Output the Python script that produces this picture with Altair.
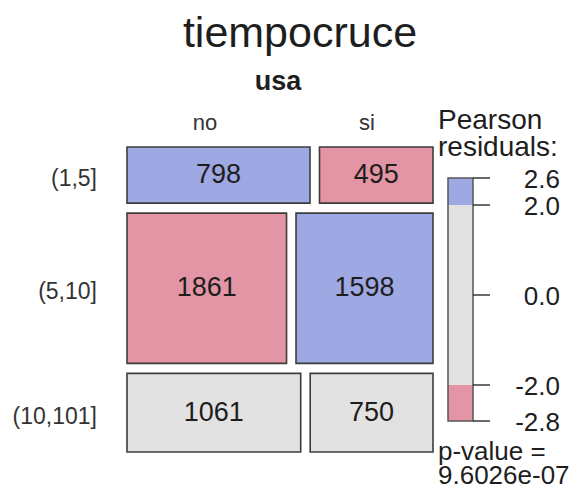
import altair as alt
import pandas as pd

# ---- data ----
rows = ["(1,5]", "(5,10]", "(10,101]"]
cols = ["no", "si"]
counts_no = [798, 1861, 1061]
counts_si = [495, 1598, 750]
legend_ticks = [2.6, 2.0, 0.0, -2.0, -2.8]
legend_tick_labels = ["2.6", "2.0", "0.0", "-2.0", "-2.8"]
legend_breaks = [-2.8, -2.0, 2.0, 2.6]
p_value_text = "9.6026e-07"

FONT = "Liberation Sans"
BLUE = "#9EA8E2"
PINK = "#E495A5"
GRAY = "#E2E2E2"
W, H = 306, 305
GX, GY = 0.032, 0.035

counts = [[a, b] for a, b in zip(counts_no, counts_si)]
total = sum(sum(r) for r in counts)
row_tot = [sum(r) for r in counts]
col_tot = [sum(counts[i][j] for i in range(len(rows))) for j in range(len(cols))]

cells = []
y = 0.0
for i, r in enumerate(rows):
    h = row_tot[i] / total
    x = 0.0
    for j, c in enumerate(cols):
        w = counts[i][j] / row_tot[i]
        exp = row_tot[i] * col_tot[j] / total
        res = (counts[i][j] - exp) / exp ** 0.5
        cells.append(dict(row=r, col=c, n=counts[i][j], x0=x, x1=x + w,
                          y0=y, y1=y + h, xc=x + w / 2, yc=y + h / 2, res=res))
        x += w + GX
    y += h + GY
cells = pd.DataFrame(cells)
rowlab = cells.groupby("row", sort=False)["yc"].first().reset_index()

xs = alt.Scale(domain=[0, 1 + GX], nice=False, zero=False)
ys = alt.Scale(domain=[0, 1 + 2 * GY], nice=False, zero=False, reverse=True)
cs = alt.Scale(type="threshold", domain=[-2, 2], range=[PINK, GRAY, BLUE])

tiles = alt.Chart(cells).mark_rect(stroke="#3c3c3c", strokeWidth=1.6).encode(
    x=alt.X("x0:Q", scale=xs, axis=None), x2="x1:Q",
    y=alt.Y("y0:Q", scale=ys, axis=None), y2="y1:Q",
    fill=alt.Fill("res:Q", scale=cs, legend=None),
)
nums = alt.Chart(cells).mark_text(font=FONT, fontSize=27, color="#1e1e1e", baseline="middle").encode(
    x=alt.X("xc:Q", scale=xs, axis=None),
    y=alt.Y("yc:Q", scale=ys, axis=None),
    text="n:Q",
)
rlabels = alt.Chart(rowlab).mark_text(font=FONT, fontSize=23, color="#333333", align="right",
                                      baseline="middle", dy=4).encode(
    x=alt.value(-30),
    y=alt.Y("yc:Q", scale=ys, axis=None),
    text="row:N",
)

one = pd.DataFrame({"k": [0]})
def label(txt, px, py, size, align="center", weight="normal", color="#1e1e1e"):
    return alt.Chart(one).mark_text(text=txt, font=FONT, fontSize=size, align=align,
                                    baseline="alphabetic", fontWeight=weight, color=color).encode(
        x=alt.value(px), y=alt.value(py))

annots = [
    label("tiempocruce", 173, -100, 43),
    label("usa", 151, -57, 27, weight="bold"),
    label(cols[0], 78, -17, 22, color="#333333"),
    label(cols[1], 240, -17, 22, color="#333333"),
    label("Pearson", 311, -18, 28, align="left"),
    label("residuals:", 311, 9, 28, align="left"),
    label("p-value =", 311, 313, 26, align="left"),
    label(p_value_text, 311, 337, 26, align="left"),
]

mosaic = alt.layer(tiles, nums, rlabels, *annots)

# ---- legend ----
seg = pd.DataFrame({
    "lo": legend_breaks[:-1],
    "hi": legend_breaks[1:],
})
seg["mid"] = (seg["lo"] + seg["hi"]) / 2
ticks = pd.DataFrame({"v": legend_ticks, "lab": legend_tick_labels})
ls = alt.Scale(domain=[legend_breaks[0], legend_breaks[-1]], range=[274, 31], nice=False, zero=False)

lbar = alt.Chart(seg).mark_rect().encode(
    x=alt.value(321), x2=alt.value(346),
    y=alt.Y("lo:Q", scale=ls, axis=None), y2="hi:Q",
    fill=alt.Fill("mid:Q", scale=cs, legend=None),
)
lframe = alt.Chart(pd.DataFrame({"lo": [legend_breaks[0]], "hi": [legend_breaks[-1]]})).mark_rect(
    fill=None, stroke="#555555", strokeWidth=1.5).encode(
    x=alt.value(321), x2=alt.value(346),
    y=alt.Y("lo:Q", scale=ls, axis=None), y2="hi:Q",
)
lticks = alt.Chart(ticks).mark_rule(color="#2a2a2a", strokeWidth=1.4).encode(
    x=alt.value(346), x2=alt.value(363),
    y=alt.Y("v:Q", scale=ls, axis=None),
)
llabels = alt.Chart(ticks).mark_text(font=FONT, fontSize=26, align="right", baseline="middle",
                                     color="#1e1e1e", dy=2).encode(
    x=alt.value(433),
    y=alt.Y("v:Q", scale=ls, axis=None),
    text="lab:N",
)
legend = alt.layer(lbar, lframe, lticks, llabels)

chart = alt.layer(mosaic, legend).resolve_scale(y="independent", fill="shared").properties(
    width=W, height=H,
    autosize=alt.AutoSizeParams(type="none"),
    padding={"left": 119, "top": 139, "right": 140, "bottom": 38},
    background="white",
).configure_view(stroke=None)

chart.save("out.html", embed_options={"renderer": "svg", "actions": False})
